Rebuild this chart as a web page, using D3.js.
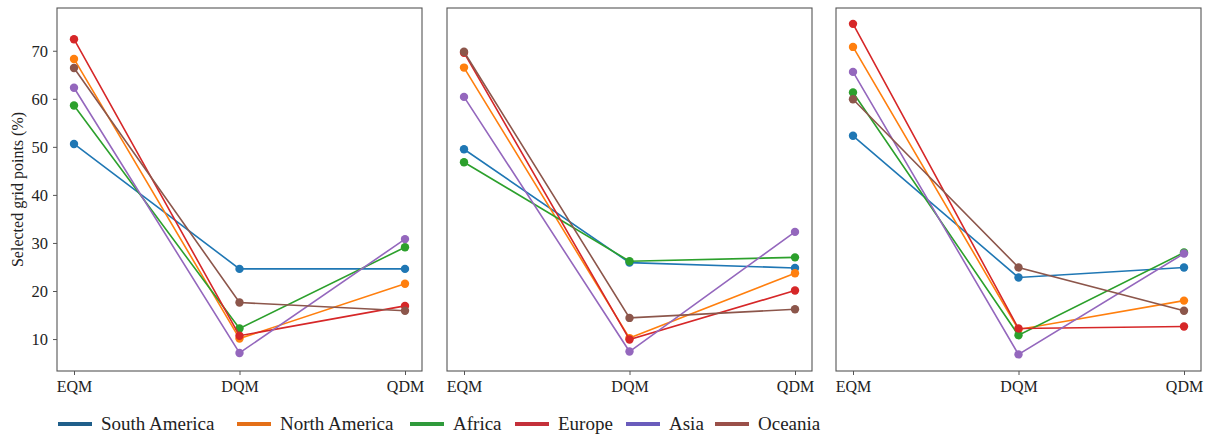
<!DOCTYPE html>
<html>
<head>
<meta charset="utf-8">
<script src="https://cdn.jsdelivr.net/npm/d3@7"></script>
<style>
  body { margin: 0; background: #fff; }
  svg text { font-family: "Liberation Serif", "DejaVu Serif", serif; fill: #222; }
</style>
</head>
<body>
<svg id="chart" width="1207" height="436"></svg>
<script>
// data
const methods = ["EQM", "DQM", "QDM"]
const regions = ["South America", "North America", "Africa", "Europe", "Asia", "Oceania"]
const lineColors = ["#1f77b4", "#ff7f0e", "#2ca02c", "#d62728", "#9467bd", "#8c564b"]
const legendColors = ["#1f5f8a", "#e46f17", "#2f9a3b", "#c4303a", "#6a5cbc", "#9a5049"]
const yTicks = [10, 20, 30, 40, 50, 60, 70]

// one array per panel, rows follow `regions`, columns follow `methods`
const panel1 = [
  [50.6, 24.6, 24.6],
  [68.3, 10.1, 21.5],
  [58.6, 12.2, 29.1],
  [72.4, 10.7, 16.9],
  [62.3, 7.1, 30.8],
  [66.4, 17.6, 15.9]
]
const panel2 = [
  [49.5, 25.9, 24.8],
  [66.5, 10.2, 23.7],
  [46.8, 26.2, 27.0],
  [69.6, 9.9, 20.1],
  [60.4, 7.4, 32.3],
  [69.8, 14.4, 16.2]
]
const panel3 = [
  [52.3, 22.8, 24.9],
  [70.8, 12.0, 18.0],
  [61.3, 10.8, 28.0],
  [75.6, 12.2, 12.6],
  [65.6, 6.8, 27.8],
  [59.9, 24.9, 15.9]
]
const panels = [panel1, panel2, panel3]

const svg = d3.select("#chart")
const panelLeft = [57, 447, 836]
const panelW = 365
const plotTop = 8, plotBottom = 371

const y = d3.scaleLinear().domain([3.35, 78.9]).range([plotBottom, plotTop])

panels.forEach((data, p) => {
  const x0 = panelLeft[p]
  const x = d3.scalePoint().domain(methods).range([x0 + 17, x0 + panelW - 17])
  const g = svg.append("g")

  // lines + markers
  data.forEach((vals, i) => {
    const pts = methods.map((m, j) => [x(m), y(vals[j])])
    g.append("path")
      .attr("d", d3.line()(pts))
      .attr("fill", "none")
      .attr("stroke", lineColors[i])
      .attr("stroke-width", 1.6)
    g.selectAll(null).data(pts).enter().append("circle")
      .attr("cx", d => d[0]).attr("cy", d => d[1]).attr("r", 4.2)
      .attr("fill", lineColors[i])
  })

  // frame
  g.append("rect")
    .attr("x", x0).attr("y", plotTop)
    .attr("width", panelW).attr("height", plotBottom - plotTop)
    .attr("fill", "none").attr("stroke", "#555").attr("stroke-width", 1.1)

  // x axis
  const xa = g.append("g").attr("transform", `translate(0,${plotBottom})`)
    .call(d3.axisBottom(x).tickSize(4).tickPadding(6))
  xa.select(".domain").remove()
  xa.selectAll("line").attr("stroke", "#555")
  xa.selectAll("text").attr("font-size", 16).attr("fill", "#222")
    .attr("font-family", "Liberation Serif")

  // y axis only on first panel
  if (p == 0) {
    const ya = g.append("g").attr("transform", `translate(${x0},0)`)
      .call(d3.axisLeft(y).tickValues(yTicks).tickSize(4).tickPadding(5))
    ya.select(".domain").remove()
    ya.selectAll("line").attr("stroke", "#555")
    ya.selectAll("text").attr("font-size", 16.5).attr("fill", "#222")
      .attr("font-family", "Liberation Serif")
  }
})

svg.append("text")
  .attr("transform", `translate(23,${(plotTop + plotBottom) / 2}) rotate(-90)`)
  .attr("text-anchor", "middle")
  .attr("font-size", 16)
  .text("Selected grid points (%)")

// legend
const legendX = [58, 237, 410, 515, 626, 715]
const leg = svg.append("g")
regions.forEach((r, i) => {
  leg.append("line")
    .attr("x1", legendX[i]).attr("x2", legendX[i] + 34)
    .attr("y1", 424).attr("y2", 424)
    .attr("stroke", legendColors[i]).attr("stroke-width", 4)
  leg.append("text")
    .attr("x", legendX[i] + 43).attr("y", 430)
    .attr("font-size", 19)
    .text(r)
})
</script>
</body>
</html>
